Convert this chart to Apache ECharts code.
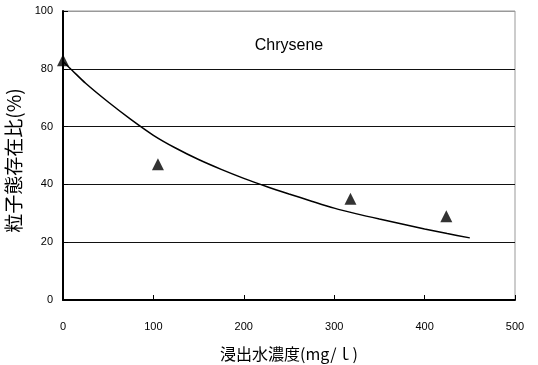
<!DOCTYPE html>
<html>
<head>
<meta charset="utf-8">
<script src="https://cdn.jsdelivr.net/npm/echarts@6/dist/echarts.min.js"></script>
<style>html,body{margin:0;padding:0;background:#fff}#c{width:538px;height:365px}</style>
</head>
<body>
<div id="c"></div>
<script>
var title = "Chrysene";
var xName = "浸出水濃度(mg/ｌ)";
var yName = "粒子態存在比(%)";
var xTicks = [0, 100, 200, 300, 400, 500];
var yTicks = [0, 20, 40, 60, 80, 100];
// measured points (triangles)
var measX = [0, 105, 318, 424];
var measY = [83, 47, 35, 29];
// fitted curve
var curveX = [0, 10, 25, 50, 75, 100, 125, 150, 175, 200, 225, 250, 275, 300, 325, 350, 375, 400, 425, 450];
var curveY = [82.5, 79.5, 75, 68.5, 62.5, 57, 52.5, 48.6, 45.2, 42.1, 39.3, 36.7, 34.2, 31.8, 29.8, 28, 26.3, 24.6, 23, 21.5];

var chart = echarts.init(document.getElementById('c'));
chart.setOption({
  animation: false,
  backgroundColor: '#fff',
  title: {
    text: title, left: 284, top: 33, textAlign: 'center',
    textStyle: {fontFamily: 'Liberation Sans', fontSize: 16, fontWeight: 'normal', color: '#000'}
  },
  grid: {left: 63, right: 23, top: 11, bottom: 65, show: true, borderColor: '#999', borderWidth: 1,
    outerBoundsMode: 'none', containLabel: false},
  xAxis: {
    type: 'value', min: 0, max: 500, interval: 100,
    name: xName, nameLocation: 'middle', nameGap: 46,
    nameTextStyle: {fontFamily: 'Noto Sans CJK JP', fontSize: 16, color: '#000'},
    axisLine: {show: true, lineStyle: {color: '#000', width: 2}},
    axisTick: {show: true, inside: true, length: 5, lineStyle: {color: '#000'}},
    axisLabel: {margin: 21, fontFamily: 'Liberation Sans', fontSize: 11, color: '#000',
      formatter: function (v) { return xTicks.indexOf(v) >= 0 ? String(v) : ''; }},
    splitLine: {show: false}
  },
  yAxis: {
    type: 'value', min: 0, max: 100, interval: 20,
    name: yName, nameLocation: 'middle', nameGap: 31, nameRotate: 90,
    nameTextStyle: {fontFamily: 'Noto Sans CJK JP', fontSize: 19, color: '#000', padding: [0, 10, 0, 0]},
    axisLine: {show: true, lineStyle: {color: '#000', width: 2}},
    axisTick: {show: true, inside: true, length: 5, lineStyle: {color: '#000'}},
    axisLabel: {margin: 10, fontFamily: 'Liberation Sans', fontSize: 11, color: '#000',
      formatter: function (v) { return yTicks.indexOf(v) >= 0 ? String(v) : ''; }},
    splitLine: {show: true, lineStyle: {color: ['#000', '#111', '#111', '#111', '#111', '#999'], width: 1}}
  },
  series: [
    {
      type: 'line', data: curveX.map(function (x, i) { return [x, curveY[i]]; }),
      showSymbol: false, symbol: 'none', smooth: 0.3,
      lineStyle: {color: '#000', width: 1.5}, z: 3
    },
    {
      type: 'scatter', data: measX.map(function (x, i) { return [x, measY[i]]; }),
      symbol: 'triangle', symbolSize: [12, 12],
      itemStyle: {color: '#000'}, z: 4
    }
  ]
});
</script>
</body>
</html>
